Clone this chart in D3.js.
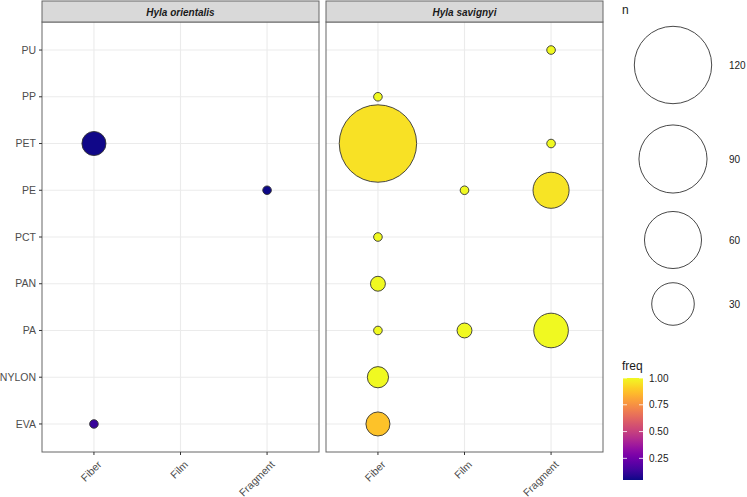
<!DOCTYPE html>
<html>
<head>
<meta charset="utf-8">
<script src="https://cdn.jsdelivr.net/npm/d3@7"></script>
<style>
  body { margin: 0; background: #fff; }
  svg { font-family: "Liberation Sans", Arial, sans-serif; }
</style>
</head>
<body>
<div id="chart"></div>
<script>
// categories
const polymers = ["EVA", "NYLON", "PA", "PAN", "PCT", "PE", "PET", "PP", "PU"];
const shapes = ["Fiber", "Film", "Fragment"];
const species = ["Hyla orientalis", "Hyla savignyi"];

// [polymer, shape, n, freq] per species
const orientalisPts = [
    ["PET", "Fiber", 7, 0.055],
    ["PE", "Fragment", 1, 0.048],
    ["EVA", "Fiber", 1, 0.125]
];
const savignyiPts = [
    ["PU", "Fragment", 1, 1],
    ["PP", "Fiber", 1, 1],
    ["PET", "Fiber", 120, 0.945],
    ["PET", "Fragment", 1, 1],
    ["PE", "Film", 1, 1],
    ["PE", "Fragment", 20, 0.952],
    ["PCT", "Fiber", 1, 1],
    ["PAN", "Fiber", 2, 1],
    ["PA", "Fiber", 1, 1],
    ["PA", "Film", 2, 1],
    ["PA", "Fragment", 18, 1],
    ["NYLON", "Fiber", 5, 1],
    ["EVA", "Fiber", 7, 0.875]
];
const sizeBreaks = [120, 90, 60, 30];
const freqBreaks = [0.25, 0.5, 0.75, 1.0];

const W = 747, H = 497;
var svg = d3.select("#chart").append("svg")
    .attr("width", W).attr("height", H);

const panelTop = 22, panelBottom = 452, stripTop = 1;
const panels = [
    { name: species[0], x0: 42, x1: 319, pts: orientalisPts },
    { name: species[1], x0: 326, x1: 603, pts: savignyiPts }
];

var yScale = d3.scalePoint().domain(polymers)
    .range([panelBottom, panelTop]).padding(0.6);

// ggplot-like size: radius linear in sqrt of rescaled n
const nMin = 1, nMax = 120;
var rLin = d3.scaleLinear().domain([0, 1]).range([4.3, 38.7]);
function radius(n) {
    return rLin(Math.sqrt((n - nMin) / (nMax - nMin)));
}
const fMin = 0.048, fMax = 1;
var colour = d3.scaleSequential(d3.interpolatePlasma).domain([fMin, fMax]);

panels.forEach(function(p) {
    var xScale = d3.scalePoint().domain(shapes)
        .range([p.x0, p.x1]).padding(0.6);
    var g = svg.append("g");

    // grid
    g.selectAll(".gy").data(polymers).enter().append("line")
        .attr("x1", p.x0).attr("x2", p.x1)
        .attr("y1", d => yScale(d)).attr("y2", d => yScale(d))
        .attr("stroke", "#ebebeb").attr("stroke-width", 1.1);
    g.selectAll(".gx").data(shapes).enter().append("line")
        .attr("y1", panelTop).attr("y2", panelBottom)
        .attr("x1", d => xScale(d)).attr("x2", d => xScale(d))
        .attr("stroke", "#ebebeb").attr("stroke-width", 1.1);

    // points, big ones first
    var pts = p.pts.slice().sort((a, b) => b[2] - a[2]);
    g.selectAll("circle.pt").data(pts).enter().append("circle")
        .attr("cx", d => xScale(d[1]))
        .attr("cy", d => yScale(d[0]))
        .attr("r", d => radius(d[2]))
        .attr("fill", d => colour(d[3]))
        .attr("stroke", "#333").attr("stroke-width", 0.9);

    // panel border
    g.append("rect")
        .attr("x", p.x0).attr("y", panelTop)
        .attr("width", p.x1 - p.x0).attr("height", panelBottom - panelTop)
        .attr("fill", "none").attr("stroke", "#666").attr("stroke-width", 1);

    // strip
    g.append("rect")
        .attr("x", p.x0).attr("y", stripTop)
        .attr("width", p.x1 - p.x0).attr("height", panelTop - stripTop)
        .attr("fill", "#d9d9d9").attr("stroke", "#666").attr("stroke-width", 1);
    g.append("text")
        .attr("x", (p.x0 + p.x1) / 2).attr("y", (stripTop + panelTop) / 2 + 4)
        .attr("text-anchor", "middle")
        .attr("font-size", 10).attr("font-weight", "bold").attr("font-style", "italic")
        .attr("fill", "#1a1a1a")
        .text(p.name);

    // x axis
    var xa = g.append("g").attr("transform", "translate(0," + panelBottom + ")");
    xa.selectAll("line").data(shapes).enter().append("line")
        .attr("x1", d => xScale(d)).attr("x2", d => xScale(d))
        .attr("y1", 0).attr("y2", 3)
        .attr("stroke", "#333").attr("stroke-width", 1);
    xa.selectAll("text").data(shapes).enter().append("text")
        .attr("transform", d => "translate(" + (xScale(d) + 3) + ",8) rotate(-45)")
        .attr("text-anchor", "end")
        .attr("dy", "0.7em")
        .attr("font-size", 10.5).attr("fill", "#4d4d4d")
        .text(d => d);
});

// y axis (left panel only)
var ya = svg.append("g");
ya.selectAll("line").data(polymers).enter().append("line")
    .attr("x1", 39).attr("x2", 42)
    .attr("y1", d => yScale(d)).attr("y2", d => yScale(d))
    .attr("stroke", "#333").attr("stroke-width", 1);
ya.selectAll("text").data(polymers).enter().append("text")
    .attr("x", 36).attr("y", d => yScale(d)).attr("dy", "0.35em")
    .attr("text-anchor", "end")
    .attr("font-size", 10.5).attr("fill", "#4d4d4d")
    .text(d => d);

// size legend
var leg = svg.append("g");
leg.append("text").attr("x", 622).attr("y", 14)
    .attr("font-size", 12).attr("fill", "#1a1a1a").text("n");
const legY = [65, 159, 240, 304];
sizeBreaks.forEach(function(b, i) {
    leg.append("circle")
        .attr("cx", 673).attr("cy", legY[i]).attr("r", radius(b))
        .attr("fill", "none").attr("stroke", "#333").attr("stroke-width", 0.9);
    leg.append("text")
        .attr("x", 729).attr("y", legY[i]).attr("dy", "0.35em")
        .attr("font-size", 10).attr("fill", "#1a1a1a").text(b);
});

// colour legend
var cb = svg.append("g");
cb.append("text").attr("x", 622).attr("y", 370)
    .attr("font-size", 12).attr("fill", "#1a1a1a").text("freq");
var defs = svg.append("defs");
var grad = defs.append("linearGradient").attr("id", "plasmaGrad")
    .attr("x1", 0).attr("y1", 1).attr("x2", 0).attr("y2", 0);
d3.range(0, 1.0001, 0.05).forEach(function(t) {
    grad.append("stop").attr("offset", t)
        .attr("stop-color", d3.interpolatePlasma(t));
});
var cbY = d3.scaleLinear().domain([fMin, fMax]).range([480, 378]);
cb.append("rect").attr("x", 623).attr("y", cbY(fMax))
    .attr("width", 20).attr("height", cbY(fMin) - cbY(fMax))
    .attr("fill", "url(#plasmaGrad)");
freqBreaks.forEach(function(b) {
    cb.append("line").attr("x1", 623).attr("x2", 627)
        .attr("y1", cbY(b)).attr("y2", cbY(b)).attr("stroke", "#fff").attr("stroke-width", 0.8);
    cb.append("line").attr("x1", 639).attr("x2", 643)
        .attr("y1", cbY(b)).attr("y2", cbY(b)).attr("stroke", "#fff").attr("stroke-width", 0.8);
    cb.append("text").attr("x", 649).attr("y", cbY(b)).attr("dy", "0.35em")
        .attr("font-size", 10).attr("fill", "#1a1a1a").text(b.toFixed(2));
});
</script>
</body>
</html>
